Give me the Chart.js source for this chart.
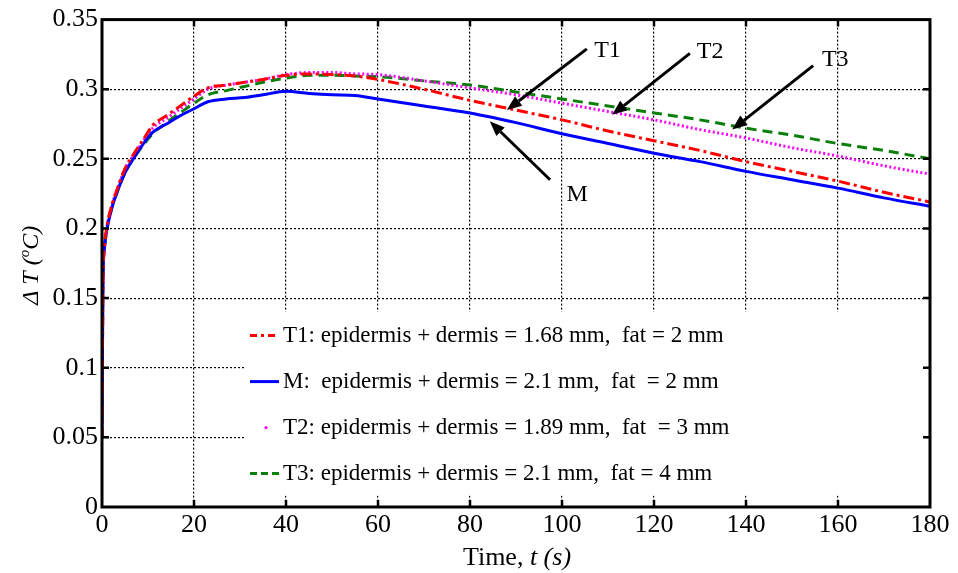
<!DOCTYPE html>
<html lang="en">
<head>
    <meta charset="UTF-8">
    <title>Temperature rise vs time</title>
    <style>
        body { margin: 0; padding: 0; background: #fff; }
        #wrap { width: 958px; height: 573px; }
    </style>
</head>
<body>
    <div id="wrap"><canvas id="chart" width="958" height="573"></canvas></div>

    <script src="https://cdn.jsdelivr.net/npm/chart.js"></script>
    <script>
        // time samples (s)
        const times = [0, 0.2, 0.5, 1, 2, 3.5, 5, 7, 9, 11, 14, 17, 20, 23, 27, 31, 35, 40, 45, 50, 55, 60,
                       70, 80, 90, 100, 110, 120, 130, 140, 150, 160, 170, 180];

        // delta T (degC) per case
        const t1Values = [0.05, 0.16, 0.186, 0.2, 0.215, 0.23, 0.243, 0.254, 0.264, 0.274, 0.281, 0.288, 0.295, 0.301,
                          0.303, 0.305, 0.307, 0.310, 0.311, 0.3105, 0.3095, 0.307,
                          0.300, 0.292, 0.285, 0.278, 0.270, 0.263, 0.256, 0.248, 0.241, 0.234, 0.226, 0.219];
        const mValues  = [0.05, 0.16, 0.185, 0.198, 0.213, 0.228, 0.240, 0.251, 0.261, 0.269, 0.275, 0.281, 0.286, 0.291,
                          0.293, 0.294, 0.296, 0.2985, 0.297, 0.296, 0.2955, 0.293,
                          0.288, 0.283, 0.276, 0.268, 0.261, 0.254, 0.248, 0.241, 0.235, 0.229, 0.222, 0.216];
        const t2Values = [0.05, 0.16, 0.186, 0.2, 0.215, 0.23, 0.243, 0.253, 0.263, 0.272, 0.279, 0.286, 0.293, 0.300,
                          0.303, 0.305, 0.307, 0.3105, 0.312, 0.312, 0.311, 0.3105,
                          0.306, 0.301, 0.296, 0.290, 0.284, 0.278, 0.271, 0.265, 0.258, 0.252, 0.245, 0.239];
        const t3Values = [0.05, 0.16, 0.184, 0.198, 0.213, 0.228, 0.240, 0.251, 0.260, 0.268, 0.276, 0.283, 0.290, 0.296,
                          0.299, 0.302, 0.305, 0.308, 0.310, 0.310, 0.3095, 0.309,
                          0.306, 0.303, 0.298, 0.293, 0.288, 0.283, 0.278, 0.272, 0.267, 0.261, 0.256, 0.250];

        const seriesLabels = [
            'T1: epidermis + dermis = 1.68 mm,  fat = 2 mm',
            'M:  epidermis + dermis = 2.1 mm,  fat  = 2 mm',
            'T2: epidermis + dermis = 1.89 mm,  fat  = 3 mm',
            'T3: epidermis + dermis = 2.1 mm,  fat = 4 mm'
        ];

        const xTicks = [0, 20, 40, 60, 80, 100, 120, 140, 160, 180];
        const yTicks = [0, 0.05, 0.1, 0.15, 0.2, 0.25, 0.3, 0.35];

        // arrow callouts: label, text position, arrow tail, arrow tip (data units)
        const callouts = [
            { text: 'T1', tx: 107, ty: 0.328, x0: 105.4, y0: 0.329, x1: 88.0, y1: 0.285 },
            { text: 'T2', tx: 129.3, ty: 0.327, x0: 127.8, y0: 0.3257, x1: 110.9, y1: 0.2816 },
            { text: 'T3', tx: 156.5, ty: 0.321, x0: 154.6, y0: 0.317, x1: 137.0, y1: 0.271 },
            { text: 'M', tx: 101.0, ty: 0.2245, x0: 97.4, y0: 0.235, x1: 84.3, y1: 0.277 }
        ];

        const SERIF = '"Liberation Serif", "Times New Roman", serif';

        function toPoints(vals) {
            return times.map((t, i) => ({ x: t, y: vals[i] }));
        }

        const styles = [
            { color: '#ff0000', dash: [11, 4, 3, 4] },
            { color: '#0000ff', dash: [] },
            { color: '#ff00ff', dash: [2, 2.5] },
            { color: '#0a800a', dash: [10, 6] }
        ];
        const allValues = [t1Values, mValues, t2Values, t3Values];

        const datasets = allValues.map((vals, i) => ({
            label: seriesLabels[i],
            data: toPoints(vals),
            borderColor: styles[i].color,
            borderDash: styles[i].dash,
            borderWidth: 3,
            pointRadius: 0,
            fill: false,
            cubicInterpolationMode: 'monotone'
        }));

        function arrow(ctx, xa, ya, xb, yb) {
            const ang = Math.atan2(yb - ya, xb - xa);
            const head = 15, half = 6;
            const bx = xb - head * Math.cos(ang), by = yb - head * Math.sin(ang);
            ctx.beginPath();
            ctx.moveTo(xa, ya);
            ctx.lineTo(bx, by);
            ctx.stroke();
            ctx.beginPath();
            ctx.moveTo(xb, yb);
            ctx.lineTo(bx + half * Math.sin(ang), by - half * Math.cos(ang));
            ctx.lineTo(bx - half * Math.sin(ang), by + half * Math.cos(ang));
            ctx.closePath();
            ctx.fill();
        }

        const decorPlugin = {
            id: 'decor',
            afterDatasetsDraw(chart) {
                const ctx = chart.ctx;
                const a = chart.chartArea;
                const xs = chart.scales.x, ys = chart.scales.y;
                ctx.save();

                // legend box (no border, white fill)
                const lx = a.left + 143, ly = a.top + 292, lw = 682, lh = 184;
                ctx.fillStyle = '#fff';
                ctx.fillRect(lx, ly, lw, lh);
                ctx.font = '23px ' + SERIF;
                ctx.textBaseline = 'middle';
                chart.data.datasets.forEach((ds, i) => {
                    const yy = ly + 24 + i * 46;
                    ctx.strokeStyle = ds.borderColor;
                    ctx.fillStyle = ds.borderColor;
                    ctx.lineWidth = 3;
                    if (i === 2) {
                        ctx.beginPath();
                        ctx.arc(lx + 21, yy, 1.6, 0, Math.PI * 2);
                        ctx.fill();
                    } else {
                        ctx.setLineDash(i === 0 ? [7, 4, 3, 4] : (i === 3 ? [7, 4] : []));
                        ctx.beginPath();
                        ctx.moveTo(lx + 5, yy);
                        ctx.lineTo(lx + 34, yy);
                        ctx.stroke();
                        ctx.setLineDash([]);
                    }
                    ctx.fillStyle = '#000';
                    ctx.textAlign = 'left';
                    ctx.fillText(ds.label, lx + 38, yy);
                });

                // frame and inward ticks
                ctx.strokeStyle = '#000';
                ctx.lineWidth = 3;
                ctx.setLineDash([]);
                ctx.strokeRect(a.left, a.top, a.right - a.left, a.bottom - a.top);
                ctx.lineWidth = 2.5;
                ctx.beginPath();
                xTicks.slice(1, -1).forEach(v => {
                    const px = xs.getPixelForValue(v);
                    ctx.moveTo(px, a.bottom); ctx.lineTo(px, a.bottom - 7);
                    ctx.moveTo(px, a.top); ctx.lineTo(px, a.top + 7);
                });
                yTicks.slice(1, -1).forEach(v => {
                    const py = ys.getPixelForValue(v);
                    ctx.moveTo(a.left, py); ctx.lineTo(a.left + 7, py);
                    ctx.moveTo(a.right, py); ctx.lineTo(a.right - 7, py);
                });
                ctx.stroke();

                // callout arrows
                ctx.lineWidth = 3;
                ctx.fillStyle = '#000';
                callouts.forEach(c => {
                    arrow(ctx, xs.getPixelForValue(c.x0), ys.getPixelForValue(c.y0),
                          xs.getPixelForValue(c.x1), ys.getPixelForValue(c.y1));
                    ctx.font = '24px ' + SERIF;
                    ctx.textAlign = 'left';
                    ctx.textBaseline = 'middle';
                    ctx.fillText(c.text, xs.getPixelForValue(c.tx), ys.getPixelForValue(c.ty));
                });

                // x axis title: "Time, " + italic "t (s)"
                ctx.textBaseline = 'middle';
                ctx.textAlign = 'left';
                const p1 = 'Time, ', p2 = 't (s)';
                ctx.font = '26px ' + SERIF;
                const w1 = ctx.measureText(p1).width;
                ctx.font = 'italic 26px ' + SERIF;
                const w2 = ctx.measureText(p2).width;
                let tx = (a.left + a.right) / 2 + 1 - (w1 + w2) / 2;
                const ty = a.bottom + 51;
                ctx.font = '26px ' + SERIF;
                ctx.fillText(p1, tx, ty);
                ctx.font = 'italic 26px ' + SERIF;
                ctx.fillText(p2, tx + w1, ty);

                // y axis title: italic "ΔT (" + superscript "o" + "C)"
                ctx.translate(32, (a.top + a.bottom) / 2 + 2);
                ctx.rotate(-Math.PI / 2);
                ctx.font = 'italic 24px ' + SERIF;
                const q1 = 'Δ T (', q3 = 'C)';
                const wq1 = ctx.measureText(q1).width, wq3 = ctx.measureText(q3).width;
                ctx.font = 'italic 15px ' + SERIF;
                const wq2 = ctx.measureText('o').width;
                let sx = -(wq1 + wq2 + wq3) / 2;
                ctx.font = 'italic 24px ' + SERIF;
                ctx.fillText(q1, sx, 0);
                ctx.font = 'italic 15px ' + SERIF;
                ctx.fillText('o', sx + wq1, -7);
                ctx.font = 'italic 24px ' + SERIF;
                ctx.fillText(q3, sx + wq1 + wq2, 0);

                ctx.restore();
            }
        };

        const gridStyle = {
            lineWidth: 1.2,
            drawTicks: false
        };

        new Chart(document.getElementById('chart').getContext('2d'), {
            type: 'line',
            data: { datasets: datasets },
            options: {
                responsive: false,
                animation: false,
                layout: { padding: { left: 0, right: 28, top: 16, bottom: 0 } },
                plugins: { legend: { display: false }, tooltip: { enabled: false } },
                scales: {
                    x: {
                        type: 'linear',
                        min: 0, max: 180,
                        afterBuildTicks: s => { s.ticks = xTicks.map(v => ({ value: v })); },
                        ticks: { color: '#000', font: { family: SERIF, size: 26 }, padding: 3, maxRotation: 0 },
                        grid: Object.assign({}, gridStyle, {
                            color: ctx => (ctx.tick && (ctx.tick.value === 0 || ctx.tick.value === 180)) ? 'rgba(0,0,0,0)' : '#000'
                        }),
                        border: { display: false, dash: [2, 2] },
                        afterFit: s => { s.height = 66; }
                    },
                    y: {
                        type: 'linear',
                        min: 0, max: 0.35,
                        afterBuildTicks: s => { s.ticks = yTicks.map(v => ({ value: v })); },
                        ticks: {
                            color: '#000', font: { family: SERIF, size: 26 }, padding: 4,
                            callback: v => String(Number(v.toFixed(2)))
                        },
                        grid: Object.assign({}, gridStyle, {
                            color: ctx => (ctx.tick && (ctx.tick.value === 0 || ctx.tick.value === 0.35)) ? 'rgba(0,0,0,0)' : '#000'
                        }),
                        border: { display: false, dash: [2, 2] },
                        afterFit: s => { s.width = 102; }
                    }
                }
            },
            plugins: [decorPlugin]
        });
    </script>
</body>
</html>
